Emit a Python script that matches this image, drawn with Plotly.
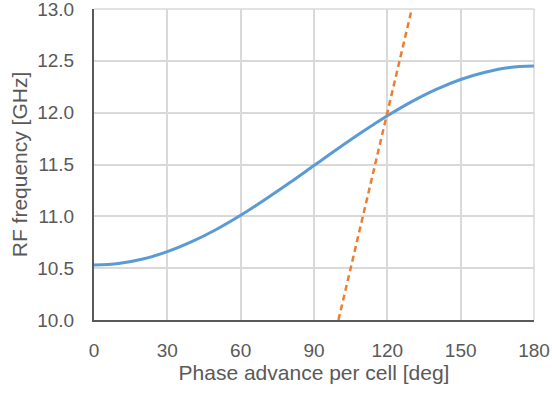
import plotly.graph_objects as go

# Dispersion curve of the accelerating mode (frequency vs phase advance)
phase_deg = [0, 10, 20, 30, 40, 50, 60, 70, 80, 90,
             100, 110, 120, 130, 140, 150, 160, 170, 180]
rf_freq_ghz = [10.53, 10.545, 10.588, 10.659, 10.755, 10.873, 11.01, 11.162,
               11.323, 11.49, 11.657, 11.818, 11.97, 12.107, 12.225, 12.32,
               12.39, 12.436, 12.45]

# Speed-of-light line (v_phase = c)
light_phase_deg = [100, 130]
light_freq_ghz = [10.0, 13.0]

x_ticks = [0, 30, 60, 90, 120, 150, 180]
y_ticks = [10.0, 10.5, 11.0, 11.5, 12.0, 12.5, 13.0]

text_color = "#595959"
grid_color = "#D9D9D9"
font_family = "Liberation Sans, Arial, sans-serif"

fig = go.Figure()
fig.add_trace(go.Scatter(
    x=phase_deg, y=rf_freq_ghz, mode="lines",
    line=dict(color="#5B9BD5", width=3, shape="spline", smoothing=1.0),
    showlegend=False, hoverinfo="skip",
))
fig.add_trace(go.Scatter(
    x=light_phase_deg, y=light_freq_ghz, mode="lines",
    line=dict(color="#ED7D31", width=2.5, dash="6px,4px"),
    showlegend=False, hoverinfo="skip",
))

# Light frame on the top and right edges of the plot area
for x0, y0, x1, y1 in [(0, 1, 1, 1), (1, 0, 1, 1)]:
    fig.add_shape(type="line", xref="paper", yref="paper",
                  x0=x0, y0=y0, x1=x1, y1=y1,
                  line=dict(color=grid_color, width=1.5), layer="below")

fig.update_layout(
    width=552, height=394,
    margin=dict(l=94, r=18, t=9, b=74),
    paper_bgcolor="white", plot_bgcolor="white",
    font=dict(family=font_family, color=text_color, size=20),
    xaxis=dict(
        range=[0, 180], tickvals=x_ticks,
        ticktext=[str(v) for v in x_ticks],
        showgrid=True, gridcolor=grid_color, gridwidth=1.5,
        showline=True, linecolor="#595959", linewidth=2,
        zeroline=False, ticks="", ticklabelstandoff=12,
        ticklabeloverflow="allow", automargin=False,
        tickfont=dict(size=19, color=text_color),
        title=dict(text="Phase advance per cell [deg]",
                   font=dict(size=21, color=text_color), standoff=6),
    ),
    yaxis=dict(
        range=[10.0, 13.0], tickvals=y_ticks,
        ticktext=[f"{v:.1f}" for v in y_ticks],
        showgrid=True, gridcolor=grid_color, gridwidth=1.5,
        showline=True, linecolor="#595959", linewidth=2,
        zeroline=False, ticks="", ticklabelstandoff=14,
        ticklabeloverflow="allow", automargin=False,
        tickfont=dict(size=19, color=text_color),
        title=dict(text="RF frequency [GHz]",
                   font=dict(size=21, color=text_color), standoff=4),
    ),
)

fig.write_html("out.html")
